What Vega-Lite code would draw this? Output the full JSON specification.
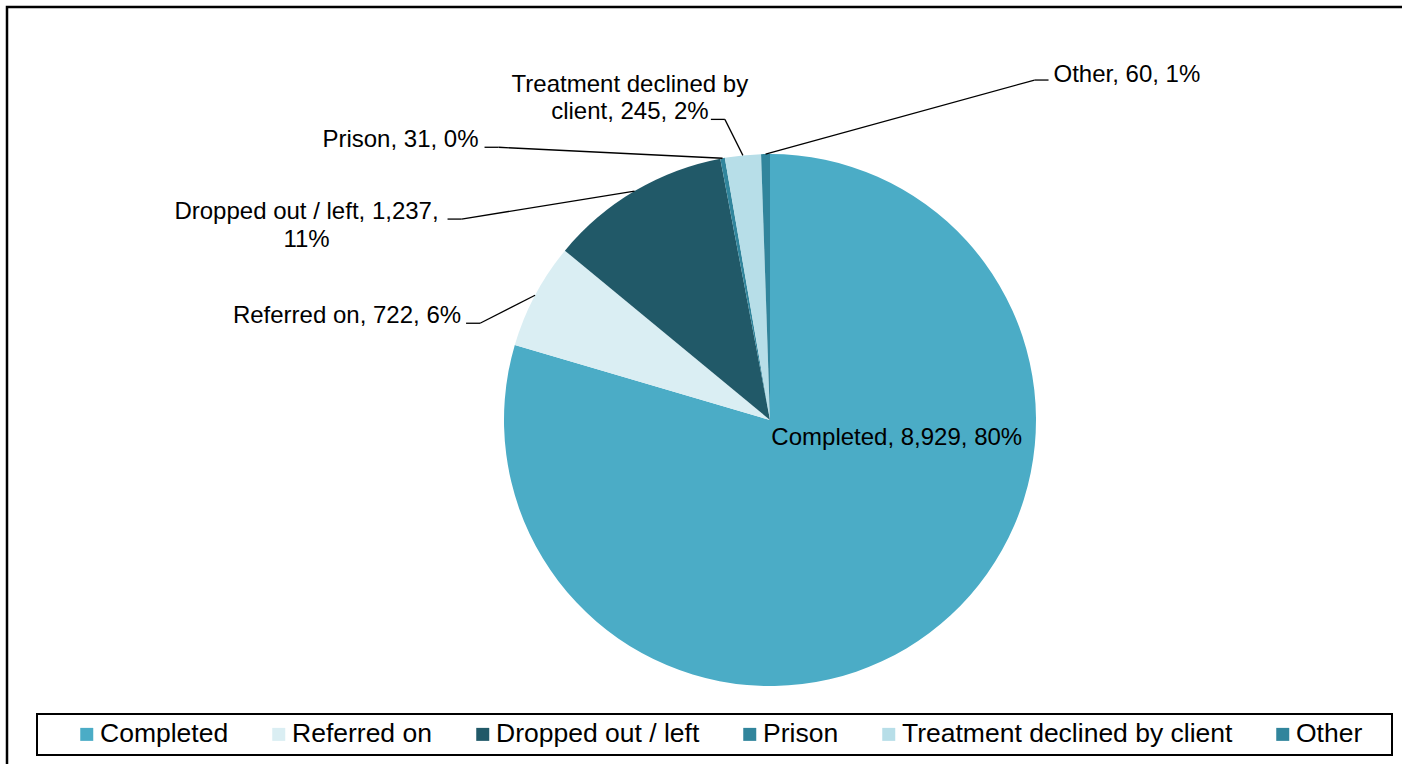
{
  "$schema": "https://vega.github.io/schema/vega-lite/v6.json",
  "width": 1500,
  "height": 800,
  "autosize": {"type": "none"},
  "padding": {"left": 7, "top": 7, "right": -105, "bottom": -43},
  "background": "white",
  "config": {
    "view": {"stroke": "#000000", "strokeWidth": 2.5},
    "font": "Liberation Sans",
    "legend": {"strokeWidth": 2}
  },
  "data": {
    "values": [
      {"cat": "Completed", "n": 8929, "order": 1},
      {"cat": "Referred on", "n": 722, "order": 2},
      {"cat": "Dropped out / left", "n": 1237, "order": 3},
      {"cat": "Prison", "n": 31, "order": 4},
      {"cat": "Treatment declined by client", "n": 245, "order": 5},
      {"cat": "Other", "n": 60, "order": 6}
    ]
  },
  "transform": [
    {"joinaggregate": [{"op": "sum", "field": "n", "as": "total"}]},
    {"window": [{"op": "sum", "field": "n", "as": "cum"}], "sort": [{"field": "order"}], "frame": [null, 0]},
    {"calculate": "2*PI*(datum.cum - datum.n/2)/datum.total", "as": "mid"},
    {"calculate": "266*sin(datum.mid)", "as": "ex"},
    {"calculate": "-266*cos(datum.mid)", "as": "ey"},
    {"calculate": "datum.cat == 'Completed' ? -158 : datum.cat == 'Referred on' ? -55 : datum.cat == 'Dropped out / left' ? -173 : datum.cat == 'Prison' ? -224 : datum.cat == 'Treatment declined by client' ? -18 : 269", "as": "ox"},
    {"calculate": "datum.cat == 'Completed' ? -188 : datum.cat == 'Referred on' ? 28 : datum.cat == 'Dropped out / left' ? 28 : datum.cat == 'Prison' ? -11 : datum.cat == 'Treatment declined by client' ? -36 : -74", "as": "oy"},
    {"calculate": "datum.cat == 'Completed' ? 0 : datum.cat == 'Other' ? 1 : -1", "as": "side"},
    {"calculate": "datum.cat == 'Completed' ? 0 : datum.cat == 'Referred on' ? -19 : datum.cat == 'Dropped out / left' ? -155 : datum.cat == 'Prison' ? -20 : datum.cat == 'Treatment declined by client' ? -95 : 19", "as": "lox"},
    {"calculate": "datum.cat == 'Treatment declined by client' ? -27.5 : datum.cat == 'Other' ? 2 : 0", "as": "loy"},
    {"calculate": "datum.cat == 'Completed' || datum.cat == 'Other' ? 'left' : datum.cat == 'Referred on' || datum.cat == 'Prison' ? 'right' : 'center'", "as": "lalign"},
    {"calculate": "datum.ex + datum.ox", "as": "elx"},
    {"calculate": "datum.ey + datum.oy", "as": "ely"},
    {"calculate": "datum.elx + datum.side*14", "as": "endx"},
    {"calculate": "datum.elx + datum.lox", "as": "lx"},
    {"calculate": "datum.ely + datum.loy", "as": "ly"},
    {"calculate": "datum.cat + ', ' + format(datum.n, ',') + ', ' + format(datum.n/datum.total, '.0%')", "as": "label0"},
    {"calculate": "replace(replace(datum.label0, 'declined by ', 'declined by\\n'), 'left, 1,237, ', 'left, 1,237,\\n')", "as": "label"}
  ],
  "layer": [
    {
      "mark": {"type": "arc", "outerRadius": 266, "stroke": null},
      "encoding": {
        "x": {"datum": 0, "type": "quantitative", "scale": {"domain": [-763, 737], "nice": false, "zero": false}, "axis": null},
        "y": {"datum": 0, "type": "quantitative", "scale": {"domain": [-413, 387], "nice": false, "zero": false, "reverse": true}, "axis": null},
        "theta": {"field": "n", "type": "quantitative", "stack": true},
        "order": {"field": "order", "type": "quantitative"},
        "color": {
          "field": "cat",
          "type": "nominal",
          "scale": {
            "domain": ["Completed", "Referred on", "Dropped out / left", "Prison", "Treatment declined by client", "Other"],
            "range": ["#4BACC6", "#DAEEF3", "#215968", "#31859C", "#B7DEE8", "#31859C"]
          },
          "legend": {
            "orient": "none",
            "legendX": 30,
            "legendY": 707,
            "direction": "horizontal",
            "columns": 6,
            "title": " ",
            "titleOrient": "left",
            "titleFontSize": 26.5,
            "titlePadding": 29.5,
            "symbolType": "square",
            "symbolSize": 169,
            "symbolStrokeWidth": 0,
            "symbolOpacity": 1,
            "labelFont": "Liberation Sans",
            "labelFontSize": 26.5,
            "labelColor": "#000000",
            "labelOffset": 0,
            "labelLimit": 600,
            "labelExpr": "datum.label == 'Other' ? 'Other\u00a0\u00a0\u00a0\u200b' : datum.label",
            "columnPadding": 37,
            "padding": 7,
            "strokeColor": "#000000"
          }
        }
      }
    },
    {
      "transform": [{"filter": "datum.side != 0"}],
      "mark": {"type": "rule", "color": "#000000", "strokeWidth": 1.3},
      "encoding": {
        "x": {"field": "ex", "type": "quantitative", "scale": {"domain": [-763, 737], "nice": false, "zero": false}, "axis": null},
        "y": {"field": "ey", "type": "quantitative", "scale": {"domain": [-413, 387], "nice": false, "zero": false, "reverse": true}, "axis": null},
        "x2": {"field": "elx"},
        "y2": {"field": "ely"}
      }
    },
    {
      "transform": [{"filter": "datum.side != 0"}],
      "mark": {"type": "rule", "color": "#000000", "strokeWidth": 1.3},
      "encoding": {
        "x": {"field": "elx", "type": "quantitative", "scale": {"domain": [-763, 737], "nice": false, "zero": false}, "axis": null},
        "y": {"field": "ely", "type": "quantitative", "scale": {"domain": [-413, 387], "nice": false, "zero": false, "reverse": true}, "axis": null},
        "x2": {"field": "endx"},
        "y2": {"field": "ely"}
      }
    },
    {
      "transform": [{"filter": "datum.lalign == 'left'"}],
      "mark": {"type": "text", "align": "left", "baseline": "alphabetic", "fontSize": 24, "font": "Liberation Sans", "color": "#000000", "lineBreak": "\n", "lineHeight": 27.5},
      "encoding": {
        "x": {"field": "lx", "type": "quantitative", "scale": {"domain": [-763, 737], "nice": false, "zero": false}, "axis": null},
        "y": {"field": "ly", "type": "quantitative", "scale": {"domain": [-413, 387], "nice": false, "zero": false, "reverse": true}, "axis": null},
        "text": {"field": "label"}
      }
    },
    {
      "transform": [{"filter": "datum.lalign == 'right'"}],
      "mark": {"type": "text", "align": "right", "baseline": "alphabetic", "fontSize": 24, "font": "Liberation Sans", "color": "#000000", "lineBreak": "\n", "lineHeight": 27.5},
      "encoding": {
        "x": {"field": "lx", "type": "quantitative", "scale": {"domain": [-763, 737], "nice": false, "zero": false}, "axis": null},
        "y": {"field": "ly", "type": "quantitative", "scale": {"domain": [-413, 387], "nice": false, "zero": false, "reverse": true}, "axis": null},
        "text": {"field": "label"}
      }
    },
    {
      "transform": [{"filter": "datum.lalign == 'center'"}],
      "mark": {"type": "text", "align": "center", "baseline": "alphabetic", "fontSize": 24, "font": "Liberation Sans", "color": "#000000", "lineBreak": "\n", "lineHeight": 27.5},
      "encoding": {
        "x": {"field": "lx", "type": "quantitative", "scale": {"domain": [-763, 737], "nice": false, "zero": false}, "axis": null},
        "y": {"field": "ly", "type": "quantitative", "scale": {"domain": [-413, 387], "nice": false, "zero": false, "reverse": true}, "axis": null},
        "text": {"field": "label"}
      }
    }
  ]
}
